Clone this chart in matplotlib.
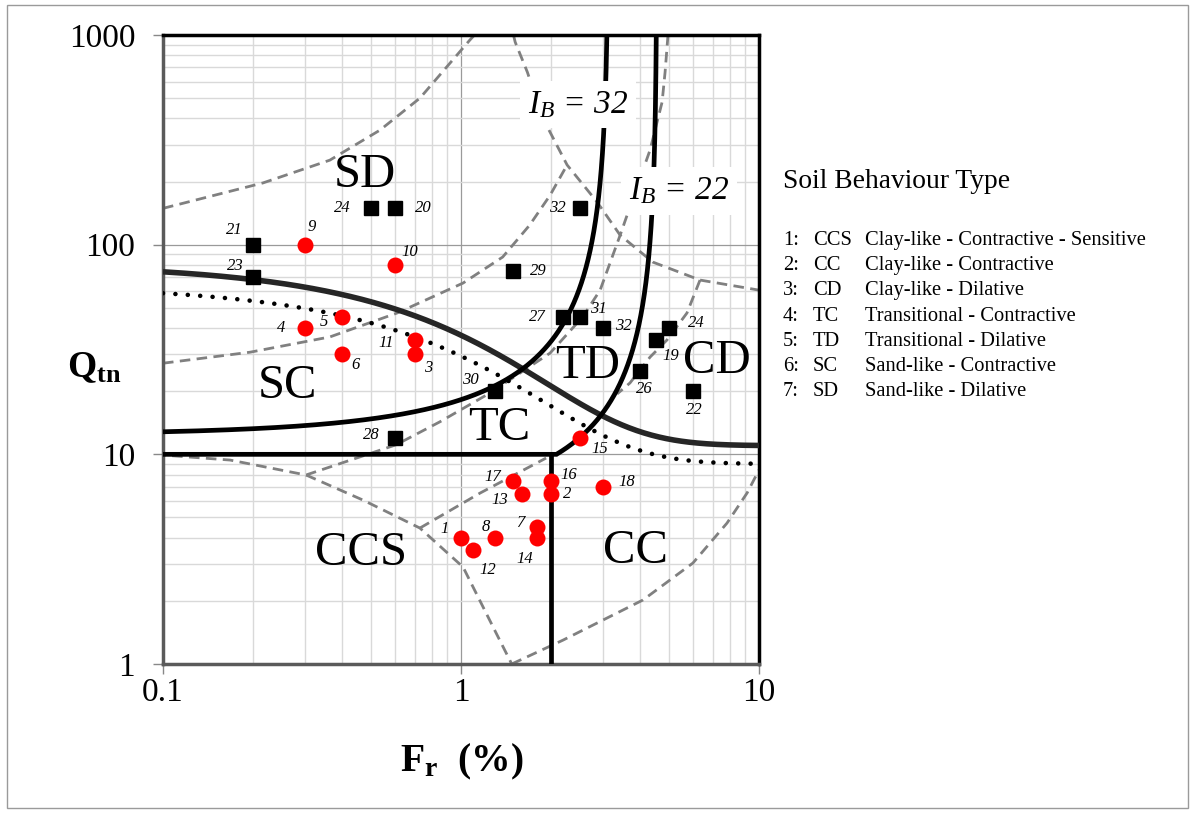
"""
Soil behaviour type chart (Qtn - Fr) with CPT data points
"""

import numpy as np
import matplotlib
matplotlib.use('Agg')
import matplotlib.pyplot as plt
from matplotlib.patches import Rectangle

#------------------------------------------------------------------#
# Data

# Red circles, points 1-18
circle_ids = ['1', '2', '3', '4', '5', '6', '7', '8', '9', '10',
              '11', '12', '13', '14', '15', '16', '17', '18']
circle_fr = [1.0, 2.0, 0.7, 0.3, 0.4, 0.4, 1.8, 1.3, 0.3, 0.6,
             0.7, 1.1, 1.6, 1.8, 2.5, 2.0, 1.5, 3.0]
circle_qtn = [4.0, 6.5, 30, 40, 45, 30, 4.5, 4.0, 100, 80,
              35, 3.5, 6.5, 4.0, 12, 7.5, 7.5, 7.0]

# Black squares, points 19-32
square_ids = ['19', '20', '21', '22', '23', '24', '24', '26',
              '27', '28', '29', '30', '31', '32', '32']
square_fr = [4.5, 0.6, 0.2, 6.0, 0.2, 0.5, 5.0, 4.0,
             2.2, 0.6, 1.5, 1.3, 2.5, 2.5, 3.0]
square_qtn = [35, 150, 100, 20, 70, 150, 40, 25,
              45, 12, 75, 20, 45, 150, 40]

# Dashed zone boundaries (older chart)
dashA_fr = [0.1, 0.2165, 0.363, 0.535, 0.728, 1.07, 1.11]
dashA_qtn = [149, 197, 253, 352, 500, 945, 1000]

dashB_fr = [1.50, 1.52, 1.67, 1.88, 2.27, 2.86, 3.42, 4.40, 6.34, 10.0]
dashB_qtn = [1000, 925, 665, 402, 240, 160, 111, 82.6, 67.8, 60.7]

dashC_fr = [0.1, 0.196, 0.363, 0.610, 1.016, 1.38, 1.70, 1.99, 2.27]
dashC_qtn = [27.2, 30.7, 36.3, 47.2, 65.6, 87.3, 124, 172, 240]

dashF_fr = [4.95, 4.84, 4.73, 4.31, 3.78, 3.42, 2.93, 2.56, 1.99,
            1.25, 0.850, 0.605, 0.302, 0.168, 0.1]
dashF_qtn = [1000, 665, 479, 283, 167, 111, 60.7, 45.2, 30.4,
             19.6, 14.3, 11.1, 7.97, 9.39, 9.92]

dashD_fr = [0.302, 0.469, 0.728, 1.016, 1.31, 1.48]
dashD_qtn = [7.97, 6.05, 4.45, 2.90, 1.41, 1.0]

dashH_fr = [0.728, 1.16, 1.93]
dashH_qtn = [4.45, 6.54, 9.6]

dashE_fr = [1.48, 2.20, 4.08, 6.00, 7.81, 9.12, 10.0]
dashE_qtn = [1.0, 1.30, 2.02, 3.03, 4.70, 6.54, 8.42]

dashG_fr = [6.34, 5.73, 4.91, 4.31, 3.69, 3.34]
dashG_qtn = [67.8, 47.2, 35.1, 29.1, 21.9, 19.4]

# Solid boundaries: IB contours and CD curves
IB_values = [32, 22]
CD_solid = (11, 70)      # Qtn = a + b / (1 + 0.06 Fr)^17
CD_dotted = (9, 55)
ccs_fr_limit = 2.0
ccs_qtn_limit = 10.0

# Legend text
legend_title = 'Soil Behaviour Type'
legend_num = ['1:', '2:', '3:', '4:', '5:', '6:', '7:']
legend_abbr = ['CCS', 'CC', 'CD', 'TC', 'TD', 'SC', 'SD']
legend_desc = ['Clay-like - Contractive - Sensitive',
               'Clay-like - Contractive',
               'Clay-like - Dilative',
               'Transitional - Contractive',
               'Transitional - Dilative',
               'Sand-like - Contractive',
               'Sand-like - Dilative']

# Label offsets (pixels, x right / y up)
circle_offs = [(-16, 9), (16, 0), (13, -14), (-24, 0), (-18, -5), (13, -11),
               (-17, 4), (-9, 11), (7, 18), (15, 13), (-29, -3), (14, -20),
               (-22, -6), (-12, -21), (20, -11), (18, 6), (-21, 4), (24, 5)]
square_offs = [(15, -16), (28, 0), (-18, 15), (1, -19), (-17, 11), (-29, 0),
               (27, 5), (4, -18), (-26, 0), (-24, 3), (25, 0), (-25, 11),
               (19, 8), (-22, 0), (20, 2)]

#------------------------------------------------------------------#
# Fonts

plt.rcParams['font.family'] = 'Liberation Serif'
plt.rcParams['mathtext.fontset'] = 'custom'
plt.rcParams['mathtext.rm'] = 'Liberation Serif'
plt.rcParams['mathtext.it'] = 'Liberation Serif:italic'
plt.rcParams['mathtext.bf'] = 'Liberation Serif:bold'

W, H = 1193, 813
fig = plt.figure(figsize=(W / 100, H / 100), dpi=100)
ax = fig.add_axes([163 / W, 1 - 664 / H, 596 / W, 629 / H])
ax.set_xscale('log')
ax.set_yscale('log')
ax.set_xlim(0.1, 10)
ax.set_ylim(1, 1000)

# grid
ax.grid(which='minor', color='#d9d9d9', lw=1.0, zorder=0)
ax.grid(which='major', color='#9a9a9a', lw=0.9, zorder=0)
ax.set_axisbelow(True)

ax.set_xticks([0.1, 1, 10], labels=['0.1', '1', '10'])
ax.set_yticks([1, 10, 100, 1000], labels=['1', '10', '100', '1000'])
ax.tick_params(which='minor', length=0)
ax.tick_params(axis='x', which='major', length=7, width=1, color='#888888',
               labelsize=24, pad=3)
ax.tick_params(axis='y', which='major', length=7, width=1, color='#888888',
               labelsize=24, pad=13)

for side in ['top', 'right']:
    ax.spines[side].set_color('black')
    ax.spines[side].set_linewidth(2.5)
for side in ['left', 'bottom']:
    ax.spines[side].set_color('#5a5a5a')
    ax.spines[side].set_linewidth(2.5)

#------------------------------------------------------------------#
# Boundaries

dash_kw = dict(color='#808080', lw=2.0, linestyle=(0, (3.8, 2.3)), zorder=2)
for fr, q in [(dashA_fr, dashA_qtn), (dashB_fr, dashB_qtn),
              (dashC_fr, dashC_qtn), (dashF_fr, dashF_qtn),
              (dashD_fr, dashD_qtn), (dashH_fr, dashH_qtn),
              (dashE_fr, dashE_qtn), (dashG_fr, dashG_qtn)]:
    ax.plot(fr, q, **dash_kw)

fr_grid = np.geomspace(0.1, 10, 400)
a, b = CD_solid
ax.plot(fr_grid, a + b / (1 + 0.06 * fr_grid) ** 17, color='#262626',
        lw=4.0, zorder=3, solid_capstyle='butt')
a, b = CD_dotted
ax.plot(fr_grid, a + b / (1 + 0.06 * fr_grid) ** 17, color='black',
        lw=3.3, linestyle=(0, (0.01, 2.7)), dash_capstyle='round', zorder=3)

# IB = 100 (Qtn + 10) / (Qtn Fr + 70)
q32 = np.geomspace(12.7, 1000, 3000)
ax.plot((100 * q32 + 1000 - 70 * IB_values[0]) / (IB_values[0] * q32), q32,
        color='black', lw=3.4, zorder=3)
q22 = np.geomspace(ccs_qtn_limit, 1000, 1000)
ib22_fr = (100 * q22 + 1000 - 70 * IB_values[1]) / (IB_values[1] * q22)
ax.plot(np.r_[0.1, ccs_fr_limit, ib22_fr], np.r_[ccs_qtn_limit, ccs_qtn_limit, q22],
        color='black', lw=3.4, zorder=3, solid_joinstyle='miter')
ax.plot([ccs_fr_limit, ccs_fr_limit], [1, ccs_qtn_limit], color='black',
        lw=3.4, zorder=3, solid_capstyle='butt')

# IB labels with white boxes
ax.text(0.6963, 0.876, r'$I_B$ = 32', transform=ax.transAxes, fontsize=24,
        style='italic', ha='center', va='baseline', zorder=4,
        bbox=dict(boxstyle='square,pad=0.25', fc='white', ec='none'))
ax.text(0.8658, 0.739, r'$I_B$ = 22', transform=ax.transAxes, fontsize=24,
        style='italic', ha='center', va='baseline', zorder=4,
        bbox=dict(boxstyle='square,pad=0.25', fc='white', ec='none'))

# zone names
for name, x, y in [('SD', 0.3389, 0.7583), ('SC', 0.2081, 0.4229),
                   ('TC', 0.5638, 0.3561), ('TD', 0.7131, 0.4547),
                   ('CD', 0.9295, 0.4626), ('CCS', 0.3322, 0.1574),
                   ('CC', 0.7936, 0.1606)]:
    ax.text(x, y, name, transform=ax.transAxes, fontsize=35,
            ha='center', va='baseline', zorder=4)

#------------------------------------------------------------------#
# Data points

ax.plot(square_fr, square_qtn, 's', color='black', ms=10.5, zorder=5)
ax.plot(circle_fr, circle_qtn, 'o', color='#ff0000', mec='none', ms=11.5,
        zorder=6)

for lbl, fr, q, off in zip(circle_ids, circle_fr, circle_qtn, circle_offs):
    ax.annotate(lbl, (fr, q), xytext=off, textcoords='offset pixels',
                ha='center', va='center', fontsize=12, style='italic', zorder=7)
for lbl, fr, q, off in zip(square_ids, square_fr, square_qtn, square_offs):
    ax.annotate(lbl, (fr, q), xytext=off, textcoords='offset pixels',
                ha='center', va='center', fontsize=12, style='italic', zorder=7)

#------------------------------------------------------------------#
# Axis titles, legend text and frame

fig.text(94 / W, 1 - 368 / H, r'Q$_{\mathbf{tn}}$', fontsize=27,
         fontweight='bold', ha='center', va='center')
fig.text(462 / W, 1 - 762 / H, r'F$_{\mathbf{r}}$  (%)', fontsize=28.5,
         fontweight='bold', ha='center', va='center')

fig.text(783 / W, 1 - 188 / H, legend_title, fontsize=19.8, va='baseline')
for i in range(len(legend_num)):
    yb = 1 - (245 + 25.2 * i) / H
    fig.text(783 / W, yb, legend_num[i], fontsize=14.8, va='baseline')
    fig.text(813 / W, yb, legend_abbr[i], fontsize=14.8, va='baseline')
    fig.text(865 / W, yb, legend_desc[i], fontsize=14.8, va='baseline')

fig.patches.append(Rectangle((7 / W, 1 - 808 / H), 1181 / W, 803 / H,
                             transform=fig.transFigure, fill=False,
                             ec='#9a9a9a', lw=1.0))

fig.savefig('out.png', dpi=100)
